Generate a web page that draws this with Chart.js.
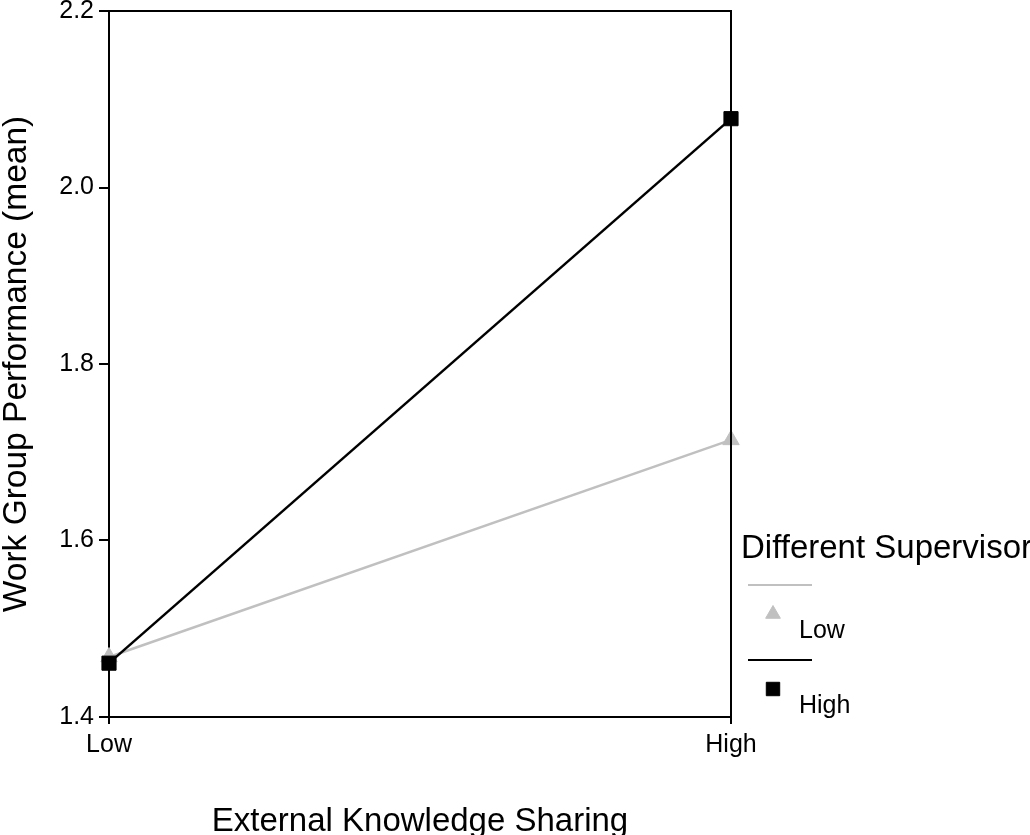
<!DOCTYPE html>
<html>
<head>
<meta charset="utf-8">
<title>Work Group Performance</title>
<script src="https://cdn.jsdelivr.net/npm/chart.js@4.4.1/dist/chart.umd.min.js"></script>
<style>
  html, body { margin: 0; padding: 0; background: #ffffff; }
  #wrap { width: 1030px; height: 835px; }
</style>
</head>
<body>
<div id="wrap"><canvas id="chart" width="1030" height="835"></canvas></div>
<script>
// Categories on the x axis
const categories = ['Low', 'High'];
// Mean work group performance per supervisor group
const lowSupervisor = [1.468, 1.714];
const highSupervisor = [1.461, 2.078];
// Y axis tick values
const yTicks = [1.4, 1.6, 1.8, 2.0, 2.2];
// Legend
const legendTitle = 'Different Supervisor';
const seriesNames = ['Low', 'High'];

const FONT = "'Liberation Sans', Arial, Helvetica, sans-serif";

// Closes the plot box on the top and right sides
const frame = {
  id: 'frame',
  afterDraw(chart) {
    const { ctx, chartArea: a } = chart;
    ctx.save();
    ctx.strokeStyle = '#000';
    ctx.lineWidth = 2;
    ctx.beginPath();
    ctx.moveTo(a.left, a.top);
    ctx.lineTo(a.right, a.top);
    ctx.lineTo(a.right, a.bottom);
    ctx.stroke();
    ctx.restore();
  }
};

// Legend drawn beside the plot: title, then a line sample and a marker for each series
const sideLegend = {
  id: 'sideLegend',
  afterDraw(chart) {
    const { ctx, chartArea: a } = chart;
    const x0 = a.right + 10;
    ctx.save();
    ctx.fillStyle = '#000';
    ctx.textAlign = 'left';
    ctx.textBaseline = 'alphabetic';
    ctx.font = '33px ' + FONT;
    ctx.fillText(legendTitle, x0, 558);
    chart.data.datasets.forEach((ds, i) => {
      const top = 585 + i * 75;
      ctx.strokeStyle = ds.borderColor;
      ctx.lineWidth = 2;
      ctx.beginPath();
      ctx.moveTo(a.right + 17, top);
      ctx.lineTo(a.right + 81, top);
      ctx.stroke();
      ctx.fillStyle = ds.pointBackgroundColor;
      ctx.strokeStyle = ds.pointBorderColor;
      ctx.lineWidth = 1;
      Chart.helpers.drawPoint(ctx, {
        pointStyle: ds.pointStyle,
        radius: ds.pointStyle === 'rect' ? 9.5 : 8.5,
        rotation: 0,
        borderWidth: 1
      }, a.right + 42, top + 29);
      ctx.fillStyle = '#000';
      ctx.font = '25px ' + FONT;
      ctx.fillText(seriesNames[i], a.right + 68, top + 53);
    });
    ctx.restore();
  }
};

new Chart(document.getElementById('chart'), {
  type: 'line',
  data: {
    labels: categories,
    datasets: [
      {
        label: seriesNames[0],
        data: lowSupervisor,
        borderColor: '#c0c0c0',
        backgroundColor: '#c0c0c0',
        borderWidth: 2.5,
        pointStyle: 'triangle',
        pointRadius: 9.5,
        pointBackgroundColor: '#c0c0c0',
        pointBorderColor: '#c0c0c0',
        pointBorderWidth: 1,
        tension: 0,
        order: 2
      },
      {
        label: seriesNames[1],
        data: highSupervisor,
        borderColor: '#000000',
        backgroundColor: '#000000',
        borderWidth: 2.5,
        pointStyle: 'rect',
        pointRadius: 10,
        pointBackgroundColor: '#000000',
        pointBorderColor: '#000000',
        pointBorderWidth: 1,
        tension: 0,
        order: 1
      }
    ]
  },
  options: {
    responsive: false,
    animation: false,
    events: [],
    layout: { padding: { left: 0, top: 7.5, right: 299, bottom: 0 } },
    plugins: {
      legend: { display: false },
      tooltip: { enabled: false }
    },
    scales: {
      x: {
        type: 'category',
        offset: false,
        grid: { display: true, drawOnChartArea: false, drawTicks: true, tickLength: 7, color: '#000', lineWidth: 2 },
        border: { display: true, color: '#000', width: 2 },
        ticks: { color: '#000', font: { family: FONT, size: 25 }, padding: 6, maxRotation: 0, autoSkip: false },
        title: {
          display: true,
          text: 'External Knowledge Sharing',
          color: '#000',
          font: { family: FONT, size: 33, lineHeight: 0.8 },
          padding: 0
        },
        afterFit(scale) {
          scale.height = 118;
          scale.paddingLeft = 0;
          scale.paddingRight = 0;
        }
      },
      y: {
        type: 'linear',
        min: 1.4,
        max: 2.2,
        afterBuildTicks(scale) {
          scale.ticks = yTicks.map(v => ({ value: v }));
        },
        grid: { display: true, drawOnChartArea: false, drawTicks: true, tickLength: 10, color: '#000', lineWidth: 2 },
        border: { display: true, color: '#000', width: 2 },
        ticks: {
          color: '#000',
          font: { family: FONT, size: 25 },
          padding: 5,
          callback: v => Number(v).toFixed(1)
        },
        title: {
          display: true,
          text: 'Work Group Performance (mean)',
          color: '#000',
          font: { family: FONT, size: 33.5, lineHeight: 1 },
          padding: 0
        },
        afterFit(scale) {
          scale.width = 109;
          scale.paddingTop = 0;
          scale.paddingBottom = 0;
        }
      }
    }
  },
  plugins: [frame, sideLegend]
});
</script>
</body>
</html>
